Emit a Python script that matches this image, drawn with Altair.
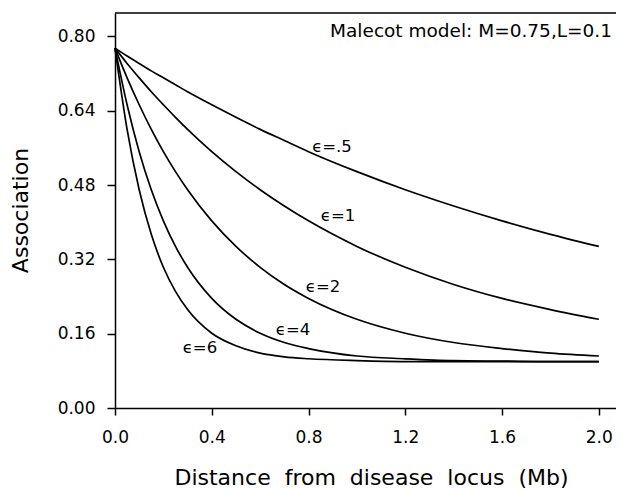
import altair as alt
import pandas as pd

# distance from disease locus (Mb)
dist = [0, 0.05, 0.1, 0.15, 0.2, 0.25, 0.3, 0.4, 0.5, 0.6, 0.7, 0.8, 1.0, 1.2, 1.4, 1.6, 1.8, 2.0]

# association values
assoc_e05 = [0.775, 0.758, 0.742, 0.726, 0.711, 0.696, 0.681, 0.653, 0.626, 0.600, 0.576, 0.552, 0.509, 0.470, 0.435, 0.403, 0.374, 0.348]
assoc_e1 = [0.775, 0.742, 0.711, 0.681, 0.653, 0.626, 0.600, 0.552, 0.509, 0.470, 0.435, 0.403, 0.348, 0.303, 0.266, 0.236, 0.212, 0.191]
assoc_e2 = [0.775, 0.711, 0.653, 0.600, 0.552, 0.509, 0.470, 0.403, 0.348, 0.303, 0.266, 0.236, 0.191, 0.161, 0.141, 0.128, 0.118, 0.112]
assoc_e4 = [0.775, 0.653, 0.552, 0.470, 0.403, 0.348, 0.303, 0.236, 0.191, 0.161, 0.141, 0.128, 0.112, 0.106, 0.102, 0.101, 0.100, 0.100]
assoc_e6 = [0.775, 0.600, 0.470, 0.374, 0.303, 0.251, 0.212, 0.161, 0.134, 0.118, 0.110, 0.106, 0.102, 0.100, 0.100, 0.100, 0.100, 0.100]

series_names = ["ϵ=.5", "ϵ=1", "ϵ=2", "ϵ=4", "ϵ=6"]
series_values = [assoc_e05, assoc_e1, assoc_e2, assoc_e4, assoc_e6]

# label positions (data units)
label_text = ["ϵ=.5", "ϵ=1", "ϵ=2", "ϵ=4", "ϵ=6"]
label_x = [0.897, 0.922, 0.860, 0.736, 0.351]
label_y = [0.562, 0.413, 0.261, 0.168, 0.129]

x_ticks = [0.0, 0.4, 0.8, 1.2, 1.6, 2.0]
y_ticks = [0.0, 0.16, 0.32, 0.48, 0.64, 0.80]

annotation = "Malecot model: M=0.75,L=0.1"

rows = []
for name, vals in zip(series_names, series_values):
    for d, v in zip(dist, vals):
        rows.append({"d": d, "a": v, "eps": name})
df = pd.DataFrame(rows)
labels_df = pd.DataFrame({"t": label_text, "d": label_x, "a": label_y})

W = 501
H = 395
FONT = "DejaVu Sans"

xscale = alt.Scale(domain=[0, 2.071], nice=False, zero=False)
yscale = alt.Scale(domain=[0, 0.8506], nice=False, zero=False)

xaxis = alt.Axis(
    values=x_ticks, format=".1f", grid=False, labelFlush=False,
    title="Distance\u00a0 from\u00a0 disease\u00a0 locus\u00a0 (Mb)",
    titleFont=FONT, titleFontSize=22, titleFontWeight="normal", titleColor="black",
    titleX=256, titleY=76, titleAlign="center", titleBaseline="alphabetic", titleAnchor="middle",
    labelFont=FONT, labelFontSize=17, labelColor="black", labelPadding=14,
    tickSize=7, tickWidth=1.5, tickColor="black",
    domainColor="black", domainWidth=1.5,
)
yaxis = alt.Axis(
    values=y_ticks, format=".2f", grid=False, labelFlush=False,
    title="Association",
    titleFont=FONT, titleFontSize=22, titleFontWeight="normal", titleColor="black",
    titleX=-88, titleY=197, titleAngle=270, titleAlign="center", titleBaseline="alphabetic",
    labelFont=FONT, labelFontSize=17, labelColor="black", labelPadding=12,
    tickSize=8, tickWidth=1.5, tickColor="black",
    domainColor="black", domainWidth=1.5,
)

lines = alt.Chart(df).mark_line(color="black", strokeWidth=1.7, interpolate="monotone").encode(
    x=alt.X("d:Q", scale=xscale, axis=xaxis),
    y=alt.Y("a:Q", scale=yscale, axis=yaxis),
    detail="eps:N",
)

labels = alt.Chart(labels_df).mark_text(font=FONT, fontSize=16.5, color="black", align="center", baseline="middle").encode(
    x=alt.X("d:Q", scale=xscale),
    y=alt.Y("a:Q", scale=yscale),
    text="t:N",
)

note = alt.Chart(pd.DataFrame({"t": [annotation]})).mark_text(
    font=FONT, fontSize=18.5, color="black", align="right", baseline="alphabetic"
).encode(x=alt.value(497), y=alt.value(24), text="t:N")

top_line = alt.Chart(pd.DataFrame({"k": [0]})).mark_rule(color="black", strokeWidth=1.5).encode(
    x=alt.value(0), x2=alt.value(W), y=alt.value(0)
)

chart = alt.layer(lines, labels, note, top_line).properties(
    width=W, height=H,
    autosize=alt.AutoSizeParams(type="none"),
    padding={"left": 107, "top": 5, "right": 0, "bottom": 92},
    background="white",
).configure_view(stroke=None)

chart.save("out.html", embed_options={"renderer": "svg", "actions": False})
